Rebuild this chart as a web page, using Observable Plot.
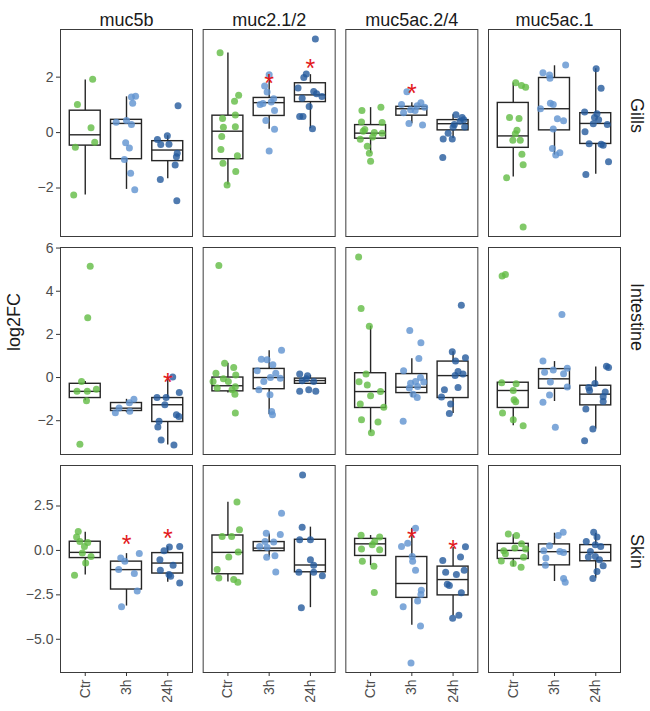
<!DOCTYPE html>
<html><head><meta charset="utf-8">
<script src="https://cdn.jsdelivr.net/npm/d3@7"></script>
<script src="https://cdn.jsdelivr.net/npm/@observablehq/plot@0.6"></script>
<style>
body{margin:0;background:#fff;}
#chart{width:650px;height:711px;position:relative;overflow:hidden;}
#chart svg{display:block;}
</style></head><body><div id="chart"></div>
<script>
const genes = ["muc5b", "muc2.1/2", "muc5ac.2/4", "muc5ac.1"];
const tissues = ["Gills", "Intestine", "Skin"];
const groups = ["Ctr", "3h", "24h"];
const groupColors = ["#62bb44", "#5f92d0", "#245a9c"];
const yTicksGills = [-2, 0, 2];
const yTicksIntestine = [-2, 0, 2, 4, 6];
const yTicksSkin = [-5, -2.5, 0, 2.5];

// points: [gene index, jittered x position (1=Ctr, 2=3h, 3=24h), log2FC]
const gillsPts = [
  [0,1.18,1.92],[0,0.81,1.01],[0,1.14,0.17],[0,1.23,-0.35],[0,0.76,-0.53],[0,0.72,-2.25],
  [0,2.22,1.31],[0,2.12,1.28],[0,2.15,1.06],[0,2.0,0.44],[0,1.75,0.37],[0,2.12,0.29],[0,1.98,-0.37],[0,2.07,-0.56],[0,1.95,-0.97],[0,2.10,-1.47],[0,2.20,-2.06],
  [0,3.25,0.97],[0,2.99,-0.11],[0,2.75,-0.25],[0,2.83,-0.43],[0,3.03,-0.42],[0,3.23,-0.75],[0,3.21,-0.87],[0,3.18,-1.17],[0,2.82,-1.69],[0,3.22,-2.46],
  [1,0.81,2.88],[1,1.26,1.35],[1,1.16,1.13],[1,1.18,0.63],[1,0.87,0.51],[1,0.89,0.19],[1,1.18,0.21],[1,0.85,-0.14],[1,0.83,-0.61],[1,1.23,-0.84],[1,0.88,-1.11],[1,1.19,-1.40],[1,0.98,-1.89],
  [1,2.0,2.09],[1,1.89,1.68],[1,1.95,1.46],[1,2.11,1.22],[1,1.78,1.01],[1,2.13,0.80],[1,1.92,0.44],[1,2.13,0.12],[1,2.0,-0.66],[1,2.05,1.10],[1,1.85,1.05],
  [1,3.12,3.38],[1,2.90,2.11],[1,2.84,1.99],[1,2.70,1.61],[1,3.08,1.48],[1,2.80,1.24],[1,3.28,1.30],[1,3.15,1.40],[1,2.97,0.94],[1,2.74,0.58],[1,2.82,0.58],[1,3.05,0.14],
  [2,0.79,0.80],[2,1.25,0.91],[2,0.78,0.38],[2,1.28,0.36],[2,0.86,0.11],[2,0.82,0.05],[2,1.09,0.0],[2,1.28,-0.02],[2,0.75,-0.24],[2,1.05,-0.16],[2,0.92,-0.49],[2,0.97,-0.75],[2,1.0,-1.03],
  [2,1.88,1.47],[2,1.75,1.01],[2,2.22,1.08],[2,2.08,0.80],[2,2.31,0.91],[2,1.80,0.72],[2,1.93,0.33],[2,2.26,0.27],[2,2.13,0.97],[2,1.97,0.82],
  [2,3.07,0.64],[2,3.22,0.54],[2,3.26,0.46],[2,3.17,0.42],[2,3.03,0.29],[2,3.28,0.20],[2,3.0,0.19],[2,2.88,-0.02],[2,2.76,-0.23],[2,2.98,-0.23],[2,2.75,-0.90],
  [3,1.06,1.80],[3,1.20,1.70],[3,1.30,1.64],[3,0.91,0.54],[3,1.14,0.51],[3,1.09,0.08],[3,1.05,-0.04],[3,1.17,-0.28],[3,0.99,-0.28],[3,1.21,-0.78],[3,1.24,-1.16],[3,0.84,-1.63],[3,1.24,-3.41],
  [3,2.27,2.44],[3,1.72,2.16],[3,1.88,2.08],[3,1.89,1.96],[3,1.90,1.06],[3,1.97,1.01],[3,1.66,0.86],[3,2.07,0.50],[3,2.22,0.43],[3,1.97,0.13],[3,1.95,-0.57],[3,2.13,-0.73],[3,2.03,-0.81],
  [3,3.01,2.30],[3,3.13,1.60],[3,2.73,0.74],[3,3.03,0.68],[3,2.97,0.54],[3,3.07,0.46],[3,3.28,0.29],[3,2.94,0.32],[3,2.74,0.03],[3,2.84,-0.40],[3,3.18,-0.46],[3,3.13,-0.42],[3,3.31,-1.05],[3,2.76,-1.51]
];
const intestinePts = [
  [0,1.12,5.16],[0,1.06,2.77],[0,0.91,-0.18],[0,0.80,-0.64],[0,1.05,-0.64],[0,1.27,-0.54],[0,1.03,-1.07],[0,0.87,-3.09],
  [0,2.18,-1.01],[0,2.07,-1.17],[0,1.82,-1.41],[0,2.08,-1.56],[0,1.73,-1.63],
  [0,3.12,0.02],[0,2.74,-0.92],[0,2.96,-0.92],[0,3.28,-0.69],[0,2.93,-1.26],[0,3.21,-1.72],[0,3.27,-1.81],[0,2.79,-2.03],[0,2.76,-2.29],[0,2.84,-2.89],[0,3.15,-3.13],
  [1,0.78,5.19],[1,0.92,0.66],[1,1.14,0.46],[1,0.71,0.20],[1,1.19,0.12],[1,0.89,-0.06],[1,0.64,-0.18],[1,1.01,-0.18],[1,1.18,-0.43],[1,0.74,-0.49],[1,1.10,-0.57],[1,1.17,-0.77],[1,1.18,-1.64],
  [1,2.30,1.26],[1,1.81,0.85],[1,1.95,0.83],[1,2.09,0.59],[1,1.71,0.31],[1,2.16,0.20],[1,1.87,-0.18],[1,2.03,0.0],[1,2.27,-0.03],[1,1.75,-0.57],[1,2.02,-0.80],[1,2.06,-1.57],[1,2.08,-1.72],
  [1,2.74,0.17],[1,2.93,0.08],[1,2.80,-0.15],[1,3.08,-0.18],[1,2.74,-0.64],[1,2.96,-0.57],[1,3.13,-0.64],[1,2.90,-0.06],
  [2,0.71,5.59],[2,0.77,3.20],[2,0.97,2.38],[2,0.89,0.17],[2,0.72,-0.20],[2,0.92,-0.35],[2,1.0,-0.84],[2,1.24,-0.65],[2,0.75,-1.23],[2,1.32,-1.38],[2,0.78,-1.95],[2,1.18,-2.06],[2,1.02,-2.56],
  [2,1.95,2.18],[2,2.22,1.61],[2,2.17,0.88],[2,1.80,0.31],[2,2.21,0.0],[2,1.97,-0.26],[2,2.09,-0.18],[2,2.29,-0.21],[2,1.94,-0.49],[2,2.14,-0.41],[2,2.03,-0.77],[2,2.13,-0.92],[2,1.79,-2.03],
  [2,3.20,3.35],[2,2.98,1.20],[2,3.30,0.92],[2,3.06,0.77],[2,3.12,0.28],[2,3.24,0.17],[2,3.05,0.09],[2,2.79,-0.57],[2,3.12,-0.46],[2,2.72,-0.90],[2,2.94,-1.23],[2,2.91,-1.67],
  [3,0.73,4.70],[3,0.81,4.78],[3,1.07,-0.29],[3,0.72,-0.24],[3,1.0,-0.60],[3,1.02,-1.03],[3,1.06,-1.12],[3,0.74,-1.64],[3,1.0,-1.96],[3,1.24,-2.23],
  [3,2.18,2.92],[3,1.72,0.77],[3,1.97,0.35],[3,1.76,0.25],[3,2.31,0.43],[3,2.22,0.18],[3,1.90,-0.21],[3,2.31,-0.44],[3,1.88,-0.81],[3,1.72,-1.15],[3,2.02,-2.30],
  [3,3.26,0.52],[3,3.31,0.46],[3,2.98,-0.28],[3,2.83,-0.46],[3,2.85,-0.60],[3,3.23,-0.67],[3,3.18,-0.89],[3,3.18,-1.11],[3,2.76,-1.46],[3,2.93,-2.38],[3,2.73,-2.93]
];
const skinPts = [
  [0,0.83,1.06],[0,0.79,0.75],[0,1.06,0.45],[0,0.98,0.22],[0,0.93,-0.15],[0,1.14,-0.34],[0,1.01,-0.71],[0,0.74,-1.40],[0,0.87,0.50],
  [0,2.31,-0.17],[0,1.96,-0.61],[0,1.86,-0.43],[0,1.81,-1.08],[0,2.19,-1.30],[0,2.26,-2.29],[0,1.88,-3.17],
  [0,3.29,0.22],[0,3.04,0.19],[0,2.91,-0.02],[0,2.81,-0.52],[0,3.13,-0.84],[0,2.82,-1.12],[0,3.07,-1.45],[0,3.29,-1.83],[0,3.03,-1.36],
  [1,1.22,2.73],[1,1.28,1.16],[1,1.09,0.78],[1,0.86,0.78],[1,1.25,-0.09],[1,1.02,-0.37],[1,0.74,-1.08],[1,0.78,-1.55],[1,1.14,-1.64],[1,1.24,-1.79],
  [1,2.30,2.09],[1,1.93,0.97],[1,2.27,0.90],[1,1.90,0.50],[1,2.11,0.47],[1,1.77,0.22],[1,1.95,0.17],[1,2.14,-0.30],[1,1.94,-0.39],[1,2.16,-1.21],
  [1,2.81,4.25],[1,2.80,1.31],[1,2.74,0.60],[1,3.0,0.60],[1,3.0,-0.52],[1,3.08,-0.84],[1,2.72,-1.23],[1,3.08,-1.23],[1,3.29,-1.42],[1,2.78,-3.22],
  [2,0.77,0.86],[2,1.22,0.75],[2,1.10,0.50],[2,0.78,0.08],[2,1.22,0.04],[2,1.04,0.32],[2,0.80,-0.61],[2,1.08,-0.89],[2,1.09,-2.37],
  [2,2.09,1.25],[2,1.90,0.41],[2,1.75,0.22],[2,2.01,-0.34],[2,2.02,-0.61],[2,2.09,-1.12],[2,2.23,-2.24],[2,2.22,-2.48],[2,2.14,-2.85],[2,1.79,-3.17],[2,2.21,-4.25],[2,1.98,-6.34],
  [2,3.30,0.21],[2,3.18,-0.37],[2,2.75,-0.56],[2,2.82,-1.23],[2,3.08,-1.36],[2,3.27,-1.12],[2,2.86,-1.90],[2,2.91,-1.98],[2,3.20,-2.38],[2,3.14,-3.65],[2,2.99,-3.82],
  [3,0.88,0.92],[3,1.08,0.84],[3,1.20,0.37],[3,1.04,0.13],[3,0.77,-0.02],[3,1.30,0.08],[3,0.81,-0.18],[3,1.25,-0.39],[3,0.71,-0.59],[3,1.0,-0.74],[3,1.19,-0.95],
  [3,2.21,1.03],[3,2.09,0.84],[3,1.88,0.26],[3,1.74,-0.02],[3,2.13,-0.06],[3,2.22,-0.11],[3,1.79,-0.43],[3,1.78,-0.84],[3,2.22,-1.58],[3,2.26,-1.79],
  [3,2.95,1.03],[3,3.03,0.75],[3,2.77,0.50],[3,2.99,0.32],[3,3.12,0.22],[3,2.87,-0.06],[3,2.99,-0.34],[3,2.82,-0.37],[3,3.09,-0.52],[3,3.18,-0.86],[3,3.03,-1.18],[3,2.93,-1.58]
];

// box stats: [gene index, group (1..3), lower whisker, Q1, median, Q3, upper whisker]
const gillsBoxes = [
  [0,1,-2.25,-0.47,-0.08,0.79,1.90],[0,2,-2.05,-0.96,0.33,0.46,1.29],[0,3,-1.67,-1.03,-0.63,-0.31,-0.11],
  [1,1,-1.89,-0.96,0.05,0.61,2.87],[1,2,0.12,0.60,1.08,1.25,2.08],[1,3,0.14,1.10,1.36,1.78,2.09],
  [2,1,-0.75,-0.22,-0.02,0.27,0.90],[2,2,0.32,0.61,0.86,0.93,1.08],[2,3,-0.21,0.08,0.32,0.45,0.64],
  [3,1,-1.60,-0.55,-0.12,1.07,1.79],[3,2,-0.81,0.08,0.86,1.97,2.41],[3,3,-1.50,-0.41,0.33,0.70,2.30]
];
const intestineBoxes = [
  [0,1,-1.07,-0.95,-0.64,-0.29,-0.18],[0,2,-1.63,-1.55,-1.42,-1.18,-1.01],[0,3,-3.13,-2.06,-1.26,-0.95,0.02],
  [1,1,-0.72,-0.64,-0.38,0.0,0.66],[1,2,-1.72,-0.54,0.0,0.40,1.24],[1,3,-0.33,-0.29,-0.14,-0.05,0.10],
  [2,1,-2.56,-1.41,-0.65,0.20,2.38],[2,2,-0.92,-0.72,-0.45,0.16,0.87],[2,3,-1.67,-0.95,0.09,0.74,1.20],
  [3,1,-2.23,-1.41,-0.60,-0.24,-0.24],[3,2,-1.11,-0.52,-0.06,0.39,0.74],[3,3,-2.38,-1.29,-0.77,-0.38,0.49]
];
const skinBoxes = [
  [0,1,-1.38,-0.43,-0.11,0.49,1.03],[0,2,-3.13,-2.20,-1.08,-0.63,-0.18],[0,3,-1.79,-1.30,-0.71,-0.15,0.21],
  [1,1,-1.77,-1.34,-0.11,0.84,2.71],[1,2,-0.39,-0.04,0.13,0.47,0.93],[1,3,-3.22,-1.23,-0.82,0.60,1.31],
  [2,1,-0.86,-0.31,0.37,0.65,0.84],[2,2,-4.21,-2.67,-1.86,-0.37,1.25],[2,3,-3.68,-2.53,-1.64,-0.91,0.17],
  [3,1,-0.91,-0.48,0.0,0.37,0.88],[3,2,-1.75,-0.84,-0.07,0.34,0.97],[3,3,-1.56,-0.61,-0.11,0.30,0.97]
];

// significance stars: [tissue index, gene index, group (1..3), y]
const stars = [
  [0,1,2,1.99],[0,1,3,2.53],[0,2,2,1.61],
  [1,0,3,0.05],
  [2,0,2,0.65],[2,0,3,1.03],[2,2,2,1.03],[2,2,3,0.37]
];

const ptsByTissue = [gillsPts, intestinePts, skinPts];
const boxesByTissue = [gillsBoxes, intestineBoxes, skinBoxes];
const ticksByTissue = [yTicksGills, yTicksIntestine, yTicksSkin];
const tickFormats = [d3.format("d"), d3.format("d"), d3.format(".1f")];
const layout = [
  {height: 241, marginTop: 29, marginBottom: 5},
  {height: 218, marginTop: 6, marginBottom: 5},
  {height: 252, marginTop: 6, marginBottom: 39}
];
const FONT = "'Liberation Sans', Arial, Helvetica, sans-serif";
const LINE = "#262626";
const minus = s => String(s).replace("-", "\u2212");

function rowPlot(ti) {
  const pts = ptsByTissue[ti].map(([g, x, y]) => ({gene: genes[g], x, y, group: groups[Math.round(x) - 1]}));
  const bx = boxesByTissue[ti].map(([g, k, lo, q1, med, q3, hi]) => ({gene: genes[g], k, lo, q1, med, q3, hi}));
  const st = stars.filter(s => s[0] === ti).map(([t, g, k, y]) => ({gene: genes[g], k, y}));
  const [mn, mx] = d3.extent(pts, d => d.y);
  const pad = (mx - mn) * 0.05;
  const L = layout[ti];
  const marks = [
    Plot.frame({stroke: "#3c3c3c", strokeWidth: 1}),
    Plot.ruleX(bx, {fx: "gene", x: "k", y1: "lo", y2: "q1", stroke: LINE, strokeWidth: 1.4}),
    Plot.ruleX(bx, {fx: "gene", x: "k", y1: "q3", y2: "hi", stroke: LINE, strokeWidth: 1.4}),
    Plot.rect(bx, {fx: "gene", x1: d => d.k - 0.375, x2: d => d.k + 0.375, y1: "q1", y2: "q3", stroke: LINE, strokeWidth: 1.4, fill: "white"}),
    Plot.ruleY(bx, {fx: "gene", y: "med", x1: d => d.k - 0.375, x2: d => d.k + 0.375, stroke: LINE, strokeWidth: 1.4}),
    Plot.dot(pts, {fx: "gene", x: "x", y: "y", r: 3.5, fill: "group", fillOpacity: 0.8, stroke: "none"}),
    Plot.text(st, {fx: "gene", x: "k", y: "y", text: () => "*", fill: "#e3191c", fontSize: 25, dy: 6.5, fontFamily: FONT}),
    Plot.axisY({ticks: ticksByTissue[ti], tickFormat: d => minus(tickFormats[ti](d)), tickSize: 4, tickPadding: 3, fontSize: 14, color: "#4d4d4d", stroke: "#333", label: null}),
    Plot.text([tissues[ti]], {fx: () => genes[3], frameAnchor: "right", dx: 16, rotate: 90, fontSize: 18, fill: "#1a1a1a", fontFamily: FONT})
  ];
  if (ti === 0) {
    marks.push(Plot.text(genes, {fx: d => d, text: d => d, frameAnchor: "top", dy: -16, fontSize: 18, fill: "#1a1a1a", fontFamily: FONT}));
  }
  if (ti === 1) {
    marks.push(Plot.text(["log2FC"], {fx: () => genes[0], frameAnchor: "left", dx: -46, rotate: -90, fontSize: 18, fill: "#1a1a1a", fontFamily: FONT}));
  }
  if (ti === 2) {
    marks.push(Plot.axisX({ticks: [1, 2, 3], tickFormat: d => groups[d - 1], tickRotate: -90, tickSize: 4, tickPadding: 3, fontSize: 14, color: "#4d4d4d", stroke: "#333", label: null}));
  }
  return Plot.plot({
    width: 650,
    height: L.height,
    marginTop: L.marginTop,
    marginBottom: L.marginBottom,
    marginLeft: 60,
    marginRight: 30,
    style: {fontFamily: FONT, background: "white"},
    fx: {domain: genes, axis: null, paddingInner: 0.0748, paddingOuter: 0, round: false, label: null},
    x: {domain: [0.4, 3.6], axis: null},
    y: {domain: [mn - pad, mx + pad], axis: null},
    color: {domain: groups, range: groupColors},
    marks
  });
}

const chart = document.getElementById("chart");
for (let i = 0; i < 3; i++) chart.appendChild(rowPlot(i));
</script>
</body></html>
